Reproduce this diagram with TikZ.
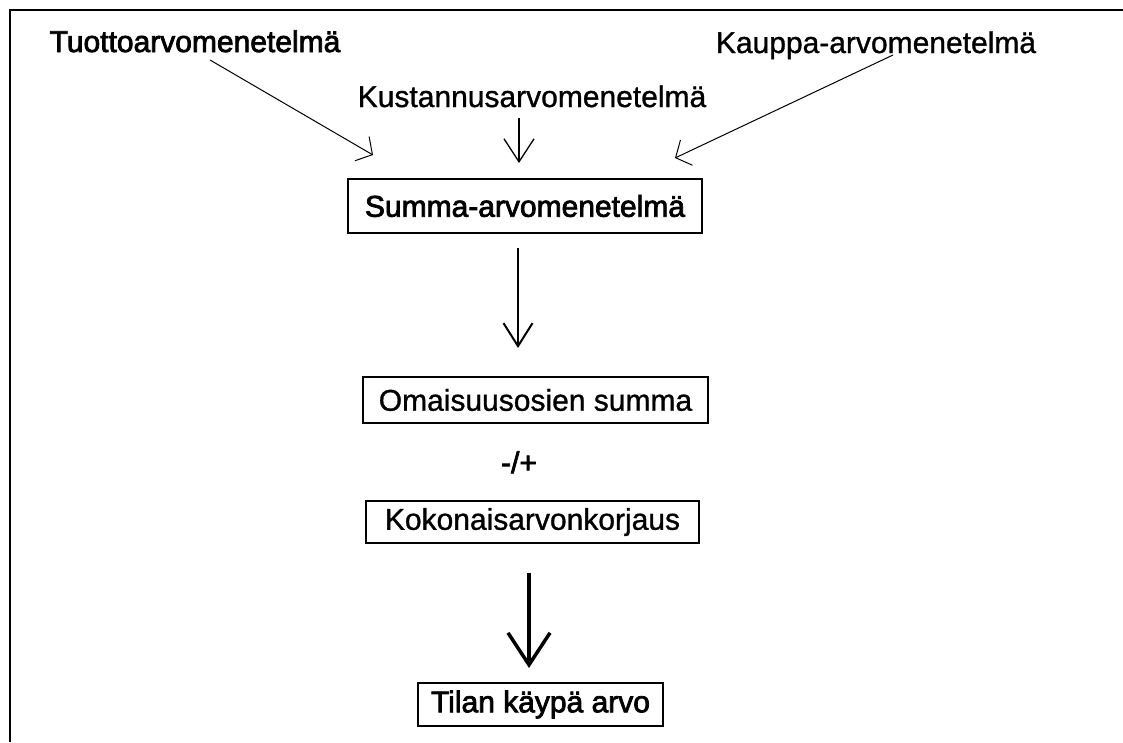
\documentclass[tikz,border=0pt]{standalone}
\usepackage{fontspec}
\setmainfont{Liberation Sans}
\newfontfamily\medfont{Liberation Sans}[FakeBold=1]
\newfontfamily\heavyfont{Liberation Sans}[FakeBold=2.5]
\usetikzlibrary{arrows.meta}
\tikzset{
  label/.style={inner sep=0pt, font=\medfont\fontsize{30}{36}\selectfont, anchor=base},
  heavy/.style={font=\heavyfont\fontsize{30}{36}\selectfont},
  box/.style={draw, line width=1.6pt, inner sep=0pt, font=\medfont\fontsize{30}{36}\selectfont},
  thinarr/.style={line width=1pt, -{Straight Barb[length=12pt,width=28pt,line width=1pt]}},
  vertarr/.style={line width=1.3pt, -{Straight Barb[length=23pt,width=30pt,line width=1.3pt]}},
  midarr/.style={line width=2pt, -{Straight Barb[length=23pt,width=29pt,line width=2pt]}},
  bigarr/.style={line width=4pt, -{Straight Barb[length=32pt,width=42pt,line width=3.5pt]}},
}
\begin{document}
\begin{tikzpicture}[x=1pt,y=-1pt]
  \useasboundingbox (0,0) rectangle (1123,742);
  % frame (top and left edges)
  \draw[line width=2pt] (1123,9.5) -- (10,9.5) -- (10,742);

  % source methods
  \node[label, heavy] (tuotto) at (195,52) {Tuottoarvomenetelmä};
  \node[label] (kustannus) at (532,107) {Kustannusarvomenetelmä};
  \node[label] (kauppa) at (876,53) {Kauppa-arvomenetelmä};

  % boxes
  \node[box, heavy, minimum width=354pt, minimum height=54pt] (summa) at (525,206) {Summa-arvomenetelmä};
  \node[box, minimum width=345pt, minimum height=46pt] (omaisuus) at (535.5,400) {Omaisuusosien summa};
  \node[label, heavy] (pm) at (519,473) {-/+};
  \node[box, minimum width=333pt, minimum height=42pt] (korjaus) at (532.5,522) {Kokonaisarvonkorjaus};
  \node[box, heavy, minimum width=245pt, minimum height=43pt] (tilan) at (540.5,704.5) {Tilan käypä arvo};

  % connector end points
  \coordinate (t1) at (210,60);
  \coordinate (t2) at (373,155);
  \coordinate (k1) at (519,118);
  \coordinate (k2) at (519,163);
  \coordinate (p1) at (893,55);
  \coordinate (p2) at (675,158);
  \coordinate (s1) at (518,248);
  \coordinate (s2) at (518,348);
  \coordinate (r1) at (529,573);
  \coordinate (r2) at (529,668);

  \draw[thinarr] (t1) -- (t2);
  \draw[vertarr] (k1) -- (k2);
  \draw[thinarr] (p1) -- (p2);
  \draw[midarr] (s1) -- (s2);
  \draw[bigarr] (r1) -- (r2);
\end{tikzpicture}
\end{document}
